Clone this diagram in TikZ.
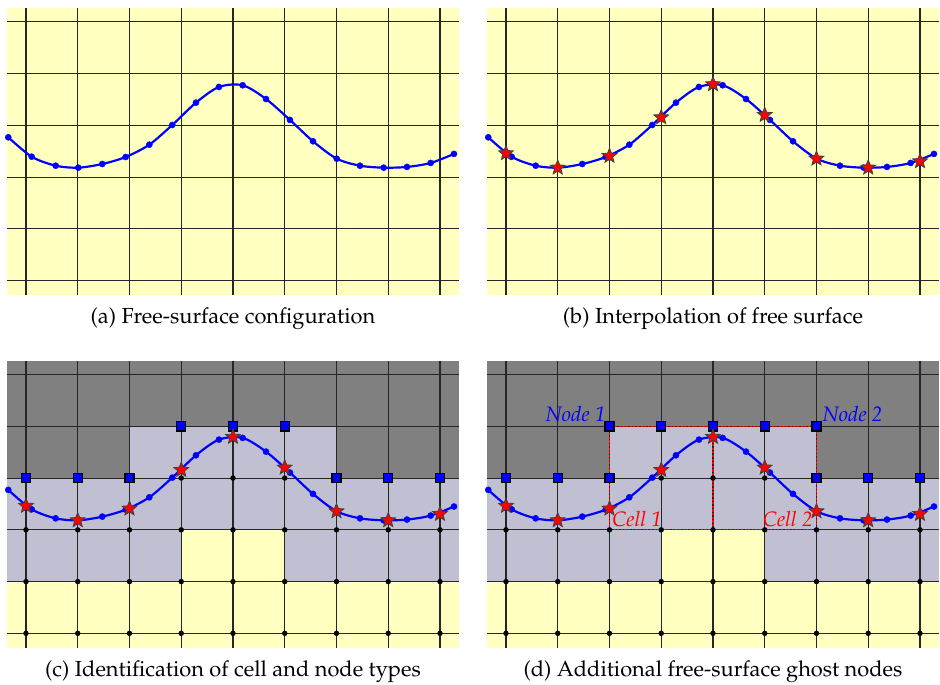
\documentclass[tikz,border=0pt]{standalone}
\usepackage[T1]{fontenc}
\usepackage{mathpazo}
\usetikzlibrary{shapes.geometric}
\definecolor{liquid}{HTML}{FFFFC0}
\definecolor{air}{HTML}{808080}
\definecolor{interface}{HTML}{C0C0D2}
\tikzset{
  fsline/.style={blue,line width=1.2pt},
  gridline/.style={black!85,line width=0.6pt},
  fsstar/.style={star,star points=5,star point ratio=2.3,fill=red,draw=black!75,line width=0.45pt,inner sep=0pt,minimum size=8.5pt},
  ghost/.style={rectangle,fill=blue,draw=black,line width=0.7pt,inner sep=0pt,minimum size=5pt},
  fluid/.style={circle,fill=black,inner sep=0pt,minimum size=3pt},
  cellline/.style={red,line width=0.7pt,dash pattern=on 1.2pt off 0.8pt},
  caption/.style={font=\large},
  marker/.style={inner sep=0pt,font=\fontsize{11.5}{14}\selectfont\itshape},
}
% one panel: background and grid
\newcommand\fsgrid{%
  \foreach \i in {0,...,8} \draw[gridline] (\i,-0.28) -- (\i,5.27);
  \foreach \j in {0,...,5} \draw[gridline] (-0.367,\j) -- (8.367,\j);}
\newcommand\fscurve{%
  \draw[fsline] plot[smooth,mark=*,mark size=1.7pt,mark options={line width=0.2pt}] coordinates {
    (-0.342,2.771) (0.110,2.396) (0.574,2.222) (1.011,2.184) (1.474,2.255)
    (1.926,2.390) (2.383,2.628) (2.827,3.009) (3.285,3.440) (3.729,3.743)
    (4.187,3.776) (4.638,3.511) (5.101,3.106) (5.546,2.694) (6.004,2.358)
    (6.454,2.222) (6.912,2.184) (7.362,2.198) (7.820,2.275) (8.270,2.450)};}
\newcommand\fsstars[1]{%
  \foreach \x/\y in {0/2.462,1/2.184,2/2.410,3/3.157,4/3.795,5/3.202,6/2.358,7/2.184,8/2.307}
    \node[fsstar] (#1star\x) at (\x,\y) {};}
\newcommand\fscells{%
  \fill[liquid] (-0.367,-0.28) rectangle (8.367,5.27);
  \fill[air] (-0.367,3) rectangle (8.367,5.27);
  \fill[interface] (-0.367,1) rectangle (8.367,3);
  \fill[interface] (2,3) rectangle (6,4);
  \fill[liquid] (3,1) rectangle (5,2);}
\newcommand\fsfluid[1]{%
  \foreach \x in {0,...,8} \foreach \y in {0,1,2} \node[fluid] (#1f\x\y) at (\x,\y) {};
  \foreach \x in {3,4,5} \node[fluid] (#1f\x3) at (\x,3) {};}
\begin{document}
\begin{tikzpicture}[x=1cm,y=1cm]
\path[use as bounding box] (-0.502,-0.98) rectangle (17.662,12.238);
% (a)
\begin{scope}[shift={(0,6.814)}]
\fill[liquid] (-0.367,-0.28) rectangle (8.367,5.27);
\fsgrid
\fscurve
\node[caption] (capa) at (4,-0.74) {(a) Free-surface configuration};
\end{scope}
% (b)
\begin{scope}[shift={(9.275,6.814)}]
\fill[liquid] (-0.367,-0.28) rectangle (8.367,5.27);
\fsgrid
\fscurve
\fsstars{b}
\node[caption] (capb) at (4,-0.74) {(b) Interpolation of free surface};
\end{scope}
% (c)
\begin{scope}
\fscells
\fsgrid
\fscurve
\fsfluid{c}
\foreach \x/\y in {0/3,1/3,2/3,3/4,4/4,5/4,6/3,7/3,8/3}
  \node[ghost] (cg\x) at (\x,\y) {};
\fsstars{c}
\node[caption] (capc) at (4,-0.74) {(c) Identification of cell and node types};
\end{scope}
% (d)
\begin{scope}[shift={(9.275,0)}]
\fscells
\fsgrid
\draw[cellline] (2,2) rectangle (6,4) (4,2) -- (4,4);
\fscurve
\fsfluid{d}
\foreach \x/\y in {0/3,1/3,2/3,3/4,4/4,5/4,6/3,7/3,8/3}
  \node[ghost] (dg\x) at (\x,\y) {};
\node[ghost] (node1) at (2,4) {};
\node[ghost] (node2) at (6,4) {};
\fsstars{d}
\node[marker,anchor=base east,text=blue] (lnode1) at (1.93,4.09) {Node 1};
\node[marker,anchor=base west,text=blue] (lnode2) at (6.11,4.09) {Node 2};
\node[marker,anchor=base west,text=red] (lcell1) at (2.05,2.07) {Cell 1};
\node[marker,anchor=base east,text=red] (lcell2) at (5.93,2.07) {Cell 2};
\node[caption] (capd) at (4,-0.74) {(d) Additional free-surface ghost nodes};
\end{scope}
\end{tikzpicture}
\end{document}
